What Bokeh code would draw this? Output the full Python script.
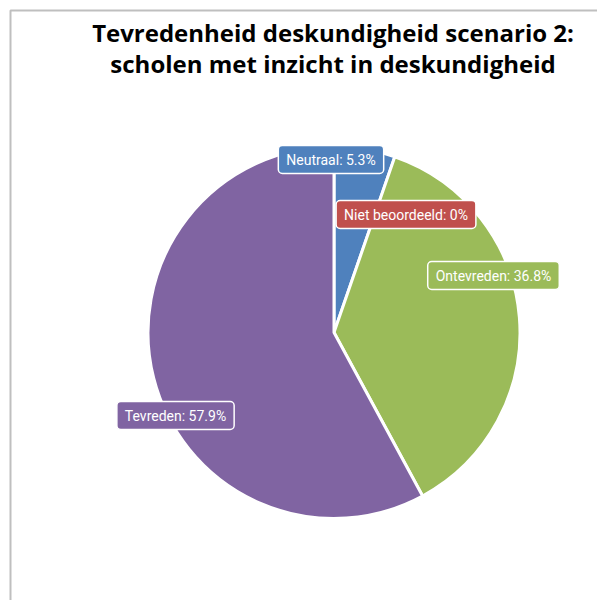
import math
from bokeh.plotting import figure
from bokeh.models import Range1d, Label, ColumnDataSource
from bokeh.embed import file_html
from bokeh.resources import INLINE

# ---- data ----
categories = ["Neutraal", "Niet beoordeeld", "Ontevreden", "Tevreden"]
percentages = [5.3, 0.0, 36.8, 57.9]
colors = ["#4F81BD", "#C0504D", "#9BBB59", "#8064A2"]
title_lines = ["Tevredenheid deskundigheid scenario 2:", "scholen met inzicht in deskundigheid"]

# ---- layout (pixel-mapped data space) ----
W, H = 597, 600
CX, CY, R = 333.5, 268.0, 186.0
label_pos = [(330.5, 441.0), (405.5, 386.0), (493.0, 325.0), (175.0, 185.0)]

p = figure(width=W, height=H, output_backend="svg", toolbar_location=None,
           x_range=Range1d(0, W), y_range=Range1d(0, H), min_border=0)
p.axis.visible = False
p.grid.visible = False
p.outline_line_color = None
p.background_fill_color = "white"

# frame border (top and left visible)
p.line(x=[10, 10, W + 5], y=[-5, 590, 590], line_color="#BFBFBF", line_width=2)

total = sum(percentages)
starts, ends = [], []
acc = 0.0
for v in percentages:
    a0 = math.pi / 2 - 2 * math.pi * acc / total
    acc += v
    a1 = math.pi / 2 - 2 * math.pi * acc / total
    starts.append(a0)
    ends.append(a1)

keep = [i for i, v in enumerate(percentages) if v > 0]
src = ColumnDataSource(dict(cat=[categories[i] for i in keep],
                            pct=[percentages[i] for i in keep],
                            color=[colors[i] for i in keep],
                            start=[starts[i] for i in keep],
                            end=[ends[i] for i in keep]))
p.wedge(x=CX, y=CY, radius=R, start_angle="start", end_angle="end",
        direction="clock", fill_color="color", line_color="white",
        line_width=3, source=src)

for cat, pct, col, (lx, ly) in zip(categories, percentages, colors, label_pos):
    txt = f"{cat}: {pct:g}%"
    p.add_layout(Label(x=lx, y=ly, text=txt, text_align="center",
                       text_baseline="middle", text_color="white",
                       text_font="Roboto", text_font_size="14px",
                       background_fill_color=col, background_fill_alpha=1.0,
                       border_line_color="white", border_line_width=1.5,
                       border_radius=4, padding=(8, 6)))

for i, line in enumerate(title_lines):
    p.add_layout(Label(x=332.5, y=568 - 31 * i, text=line, text_align="center",
                       text_baseline="alphabetic", text_color="black",
                       text_font="Open Sans", text_font_style="bold",
                       text_font_size="24px"))

open("out.html", "w").write(file_html(p, INLINE))
